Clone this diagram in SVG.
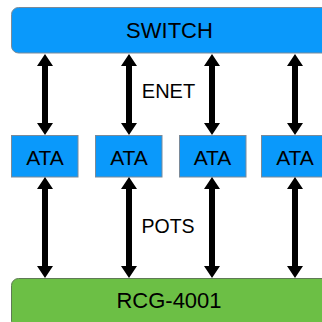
<svg xmlns="http://www.w3.org/2000/svg" width="322" height="322" viewBox="0 0 322 322">
<style>
.blue{fill:#0a99fb;stroke:#7a8a99;stroke-width:1}
.green{fill:#6cbf45;stroke:#5f7a55;stroke-width:1}
.t{font-family:"Liberation Sans",Arial,sans-serif;fill:#000;text-anchor:middle}
.arr{fill:#000}
</style>
<rect width="322" height="322" fill="#fff"/>
<g id="switch">
<rect class="blue" x="11.5" y="7.5" width="330" height="45.5" rx="7"/>
<text class="t" x="169.5" y="38" font-size="22">SWITCH</text>
</g>
<g id="ata1">
<rect class="blue" x="11.5" y="135.5" width="66.5" height="41.5"/>
<text class="t" x="45" y="165" font-size="21">ATA</text>
</g>
<g id="ata2">
<rect class="blue" x="95.5" y="135.5" width="66.5" height="41.5"/>
<text class="t" x="129" y="165" font-size="21">ATA</text>
</g>
<g id="ata3">
<rect class="blue" x="179.5" y="135.5" width="66.5" height="41.5"/>
<text class="t" x="212.5" y="165" font-size="21">ATA</text>
</g>
<g id="ata4">
<rect class="blue" x="261.5" y="135.5" width="66.5" height="41.5"/>
<text class="t" x="295" y="165" font-size="21">ATA</text>
</g>
<g id="rcg">
<rect class="green" x="11.5" y="278.5" width="330" height="50" rx="7"/>
<text class="t" x="169" y="308" font-size="22">RCG-4001</text>
</g>
<g id="connectors" class="arr">
<path d="M45 54 L53 66 L48 66 L48 123 L53 123 L45 135 L37 123 L42 123 L42 66 L37 66 Z"/>
<path d="M129 54 L137 66 L132 66 L132 123 L137 123 L129 135 L121 123 L126 123 L126 66 L121 66 Z"/>
<path d="M212 54 L220 66 L215 66 L215 123 L220 123 L212 135 L204 123 L209 123 L209 66 L204 66 Z"/>
<path d="M295 54 L303 66 L298 66 L298 123 L303 123 L295 135 L287 123 L292 123 L292 66 L287 66 Z"/>
<path d="M45 177 L53 189 L48 189 L48 266 L53 266 L45 278 L37 266 L42 266 L42 189 L37 189 Z"/>
<path d="M129 177 L137 189 L132 189 L132 266 L137 266 L129 278 L121 266 L126 266 L126 189 L121 189 Z"/>
<path d="M212 177 L220 189 L215 189 L215 266 L220 266 L212 278 L204 266 L209 266 L209 189 L204 189 Z"/>
<path d="M295 177 L303 189 L298 189 L298 266 L303 266 L295 278 L287 266 L292 266 L292 189 L287 189 Z"/>
<text class="t" x="168.5" y="98" font-size="20">ENET</text>
<text class="t" x="168" y="233" font-size="19.5">POTS</text>
</g>
</svg>
